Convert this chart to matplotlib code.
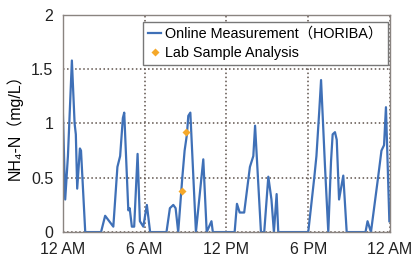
# NH4-N online measurement vs lab samples over one day
import matplotlib
matplotlib.use("Agg")
import matplotlib.pyplot as plt

plt.rcParams['font.family'] = ['Liberation Sans', 'Noto Sans CJK JP', 'DejaVu Sans']

# online measurement, hours since midnight and mg/L
hours = [0.0, 0.17, 0.37, 0.66, 0.86, 0.95, 1.05, 1.25, 1.33, 1.64,
         2.8, 3.1, 3.4, 3.7, 4.0, 4.2, 4.4, 4.5, 4.8, 4.9, 5.06, 5.23,
         5.48, 5.65, 5.9, 6.16, 6.4, 7.6, 7.85, 8.1, 8.27, 8.46, 8.76,
         8.93, 9.1, 9.2, 9.35, 9.76, 10.3, 10.55, 10.9, 11.0, 12.6,
         12.77, 12.97, 13.3, 13.72, 13.97, 14.1, 14.2, 14.53, 14.77,
         15.07, 15.3, 15.48, 15.68, 15.8, 18.0, 18.44, 18.6, 18.8, 18.94,
         19.23, 19.47, 19.67, 19.79, 19.96, 20.09, 20.26, 20.4, 20.57,
         20.82, 22.2, 22.35, 22.6, 23.12, 23.37, 23.56, 23.7, 23.95]
nh4 = [1.1, 0.3, 0.7, 1.58, 1.0, 0.9, 0.4, 0.77, 0.75, 0.0,
       0.0, 0.15, 0.1, 0.05, 0.6, 0.7, 1.05, 1.1, 0.2, 0.22, 0.05, 0.05,
       0.72, 0.1, 0.05, 0.25, 0.0, 0.0, 0.22, 0.25, 0.22, 0.0, 0.5,
       0.75, 0.9, 1.07, 1.1, 0.0, 0.67, 0.0, 0.1, 0.0, 0.0,
       0.26, 0.18, 0.18, 0.6, 0.7, 0.98, 0.75, 0.0, 0.0,
       0.51, 0.3, 0.0, 0.35, 0.0, 0.0, 0.5, 0.7, 1.1, 1.4,
       0.6, 0.0, 0.65, 0.9, 0.92, 0.85, 0.3, 0.4, 0.52,
       0.0, 0.0, 0.1, 0.0, 0.5, 0.75, 0.8, 1.15, 0.1]

# lab samples
lab_hours = [8.73, 9.0]
lab_nh4 = [0.38, 0.92]

xtick_pos = [0, 6, 12, 18, 24]
xtick_labels = ['12 AM', '6 AM', '12 PM', '6 PM', '12 AM']
ytick_pos = [0, 0.5, 1, 1.5, 2]
ytick_labels = ['0', '0.5', '1', '1.5', '2']

fig = plt.figure(figsize=(4.11, 2.57), dpi=100)
ax = fig.add_axes([0.153, 0.097, 0.796, 0.845])

ax.plot(hours, nh4, color='#3f70b7', lw=1.6, label='Online Measurement（HORIBA）')
ax.plot(lab_hours, lab_nh4, ls='none', marker='D', ms=4.5, color='#f5a82a',
        mec='none', label='Lab Sample Analysis')

ax.set_xlim(0, 24)
ax.set_ylim(0, 2)
ax.set_xticks(xtick_pos)
ax.set_xticklabels(xtick_labels)
ax.set_yticks(ytick_pos)
ax.set_yticklabels(ytick_labels)
ax.tick_params(length=0, labelsize=11.5, colors='#222222')
ax.tick_params(axis='x', pad=7)
ax.tick_params(axis='y', pad=7)
ax.grid(True, color='#5e524c', ls=':', lw=1.1)
for s in ax.spines.values():
    s.set_color('#8a8480')
    s.set_linewidth(1.0)

ax.set_ylabel('NH₄-N（mg/L）', fontsize=11.5, labelpad=6)

leg = ax.legend(loc='upper right', bbox_to_anchor=(0.993, 0.968), fontsize=10.4,
                handlelength=0.9, handletextpad=0.3, borderpad=0.35,
                labelspacing=0.35, borderaxespad=0, fancybox=False, framealpha=1)
leg.get_frame().set_edgecolor('#777777')
leg.get_frame().set_linewidth(1.0)

fig.savefig('out.png', dpi=100)
